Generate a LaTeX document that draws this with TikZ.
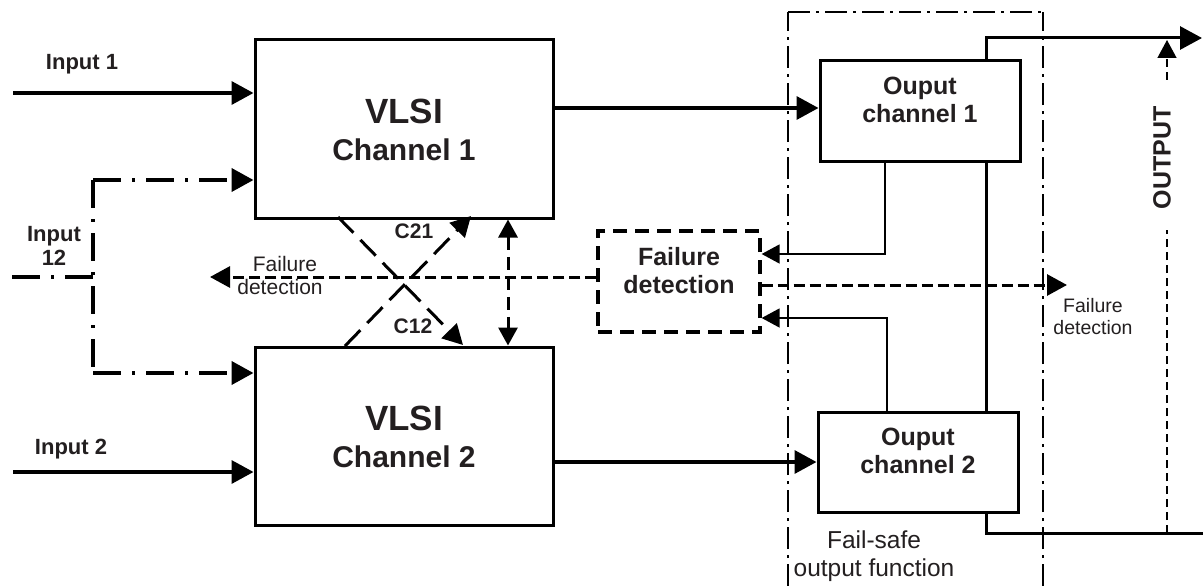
\documentclass[tikz,border=0pt]{standalone}
\usepackage{fontspec}
\setmainfont{Liberation Sans}
\usetikzlibrary{arrows.meta}
\definecolor{ink}{RGB}{35,31,32}
\newcommand{\fsz}[1]{\fontsize{#1}{#1}\selectfont}

\tikzset{
  bigtip/.tip={Triangle[length=22pt,width=23pt]},
  midtip/.tip={Triangle[length=20pt,width=21pt]},
  smltip/.tip={Triangle[length=18pt,width=19pt]},
}

\begin{document}
\begin{tikzpicture}[x=1pt,y=-1pt,
  blk/.style={draw=black,line width=3pt,inner sep=0pt},
  fdbox/.style={draw=black,line width=3.3pt,inner sep=0pt,dash pattern=on 14pt off 8pt},
  txt/.style={inner sep=0pt,outer sep=0pt,text=ink,anchor=base},
  btxt/.style={txt,font=\bfseries\fsz{#1}},
  rtxt/.style={txt,font=\fsz{#1}},
  flow/.style={line width=3.5pt,-bigtip},
  thinline/.style={line width=1.7pt,-smltip},
  ddline/.style={line width=4pt,dash pattern=on 28pt off 11pt on 3pt off 11pt},
  fsside/.style={line width=2.5pt,dash pattern=on 22pt off 6pt on 3pt off 6pt},
  fstop/.style={line width=1.3pt,dash pattern=on 22pt off 6pt on 3pt off 6pt},
  fdline/.style={line width=3pt,dash pattern=on 11pt off 5pt,-midtip},
  crossline/.style={line width=3pt,dash pattern=on 22pt off 10pt,-midtip},
  linkline/.style={line width=3pt,dash pattern=on 13pt off 7pt,smltip-smltip},
  outline/.style={line width=1.3pt,dash pattern=on 8pt off 5pt},
]
\useasboundingbox (0,0) rectangle (1203,586);

% ---- fail-safe output function region
\coordinate (fsbl) at (788,586);
\coordinate (fsbr) at (1043,586);
\coordinate (fstl) at (788,12);
\coordinate (fstr) at (1043,12);
\draw[fsside] (fsbl) -- (fstl);
\draw[fsside] (fsbr) -- (fstr);
\draw[fstop] (fstl) -- (fstr);

% ---- blocks
\node[blk,minimum width=298pt,minimum height=178pt] (vlsi1) at (404,129) {};
\node[blk,minimum width=298pt,minimum height=178pt] (vlsi2) at (404,436) {};
\node[blk,minimum width=200pt,minimum height=100pt] (oc1) at (920,111) {};
\node[blk,minimum width=200pt,minimum height=100pt] (oc2) at (918,462) {};
\node[fdbox,minimum width=162pt,minimum height=101pt] (fd) at (679,281.5) {};

% ---- block texts
\node[btxt=35] (v1a) at (404,123.5) {VLSI};
\node[btxt=30] (v1b) at (404,160) {Channel 1};
\node[btxt=35] (v2a) at (404,430.5) {VLSI};
\node[btxt=30] (v2b) at (404,467) {Channel 2};
\node[btxt=25] (oc1a) at (920,95) {Ouput};
\node[btxt=25] (oc1b) at (920,122) {channel 1};
\node[btxt=25] (oc2a) at (918,445) {Ouput};
\node[btxt=25] (oc2b) at (918,473) {channel 2};
\node[btxt=25] (fda) at (679,265) {Failure};
\node[btxt=25] (fdb) at (679,293) {detection};

% ---- inputs
\coordinate (in1) at (13,93);
\coordinate (in2) at (13,472);
\draw[flow] (in1) -- (in1 -| vlsi1.west);
\draw[flow] (in2) -- (in2 -| vlsi2.west);
\node[btxt=22] (in1lbl) at (82,70) {Input 1};
\node[btxt=22] (in2lbl) at (71,454) {Input 2};

\coordinate (jt) at (93,180);
\coordinate (jb) at (93,373);
\coordinate (in12) at (12,277);
\draw[ddline,-bigtip] (jt) -- (jt -| vlsi1.west);
\draw[ddline,-bigtip] (jb) -- (jb -| vlsi2.west);
\draw[ddline] (jt) -- (jb);
\draw[ddline] (in12) -- (in12 -| jt);
\node[btxt=22] (in12a) at (54,241) {Input};
\node[btxt=22] (in12b) at (54,265) {12};

% ---- channel cross links
\coordinate (c12s) at (338,217);
\coordinate (c12e) at (463,345);
\coordinate (c21s) at (345,346);
\coordinate (c21e) at (471,216);
\coordinate (lk) at (508,0);
\draw[crossline] (c12s) -- (c12e);
\draw[crossline] (c21s) -- (c21e);
\draw[linkline] (vlsi1.south -| lk) -- (vlsi2.north -| lk);
\node[btxt=21] (c21) at (414,238) {C21};
\node[btxt=21] (c12) at (413,333) {C12};

% ---- channels to output stages
\coordinate (h1) at (0,108);
\draw[flow] (vlsi1.east |- h1) -- (oc1.west |- h1);
\draw[flow] (vlsi2.east |- oc2.west) -- (oc2.west);

% ---- output rail
\coordinate (xo) at (986,0);
\coordinate (outtop) at (1202,38);
\coordinate (outbot) at (1203,533);
\draw[line width=3pt,-bigtip] (oc1.north -| xo) |- (outtop);
\draw[line width=3pt] (oc1.south -| xo) -- (oc2.north -| xo);
\draw[line width=3pt] (oc2.south -| xo) |- (outbot);

\coordinate (od) at (1167,533);
\coordinate (odg1) at (1167,230);
\coordinate (odg2) at (1167,80);
\coordinate (odt) at (1167,40);
\draw[outline] (od) -- (odg1);
\draw[outline,-smltip] (odg2) -- (odt);
\node[inner sep=0pt,text=ink,font=\bfseries\fsz{25},rotate=90] (outlbl) at (1162,158) {OUTPUT};

% ---- feedback to failure detection
\coordinate (f1) at (885,254);
\coordinate (f2) at (887,318);
\draw[thinline] (oc1.south -| f1) -- (f1) -- (f1 -| fd.east);
\draw[thinline] (oc2.north -| f2) -- (f2) -- (f2 -| fd.east);

% ---- failure detection signals
\coordinate (fdl) at (210,277);
\coordinate (fdr) at (1067,285);
\draw[fdline] (fd.west |- fdl) -- (fdl);
\draw[fdline] (fd.east |- fdr) -- (fdr);
\node[rtxt=21] (fdla) at (285,271) {Failure};
\node[rtxt=21] (fdlb) at (280,294) {detection};
\node[rtxt=19.5] (fdra) at (1093,312) {Failure};
\node[rtxt=19.5] (fdrb) at (1093,334) {detection};

% ---- region caption
\node[rtxt=24.5] (fsa) at (874,548) {Fail-safe};
\node[rtxt=24.5] (fsb) at (874,576) {output function};
\end{tikzpicture}
\end{document}
